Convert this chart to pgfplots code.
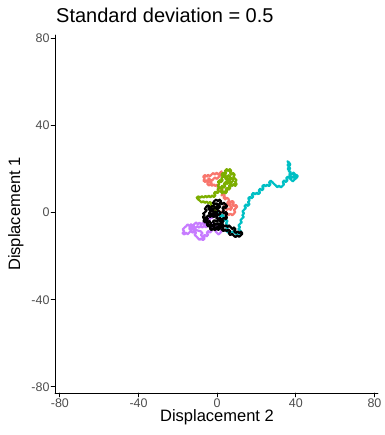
\documentclass[border=0pt]{standalone}
\usepackage{pgfplots}
\pgfplotsset{compat=1.18}
\usepackage{fontspec}
\setmainfont{Liberation Sans}
\definecolor{gR}{HTML}{F8766D}
\definecolor{gG}{HTML}{7CAE00}
\definecolor{gC}{HTML}{00BFC4}
\definecolor{gP}{HTML}{C77CFF}
\definecolor{tickgray}{HTML}{4D4D4D}
\begin{document}
\begin{tikzpicture}[x=1pt,y=1pt]
\useasboundingbox (0,0) rectangle (384,435);
\begin{axis}[
  at={(55pt,42pt)}, anchor=south west,
  scale only axis, width=323pt, height=358pt,
  xmin=-82.5, xmax=81.8, ymin=-82.8, ymax=81.6,
  axis lines=left, axis line style={-, line width=0.9pt, black},
  xtick={-80,-40,0,40,80}, ytick={-80,-40,0,40,80},
  tick align=outside, major tick length=3.8pt,
  tick style={line width=0.9pt, black},
  every tick label/.append style={font=\fontsize{12.5}{14}\selectfont, text=tickgray},
  /pgf/number format/assume math mode=true,
  xticklabel style={inner sep=1pt, yshift=-1pt},
  yticklabel style={inner sep=1.5pt},
  clip=false,
  line join=round, line cap=round,
]
\addplot[gR, line width=2.2pt] coordinates {(0,0)(0.8,0.7)(1.6,-0.1)(2.5,0.6)(3.3,-0.2)(4.2,0.5)(5.0,-0.3)(5.9,-1.1)(6.7,-0.4)(7.6,-1.2)(8.4,-0.5)(9.2,0.3)(8.5,1.2)(9.4,2.0)(10.2,2.8)(9.4,3.6)(8.5,3.0)(7.7,3.8)(8.5,4.7)(7.6,5.4)(6.8,4.7)(5.9,5.4)(5.1,4.6)(5.9,3.8)(5.0,3.0)(4.2,3.7)(3.4,2.9)(4.1,2.0)(5.0,1.3)(5.9,2.0)(6.8,1.3)(7.5,2.2)(6.7,3.0)(5.8,6.2)(4.9,6.9)(4.1,6.1)(3.2,6.9)(3.9,7.8)(3.1,8.6)(2.2,7.9)(2.9,9.0)(2.1,9.8)(2.8,10.7)(1.9,11.4)(1.1,10.6)(0.2,11.3)(0.9,12.2)(0.0,12.9)(-0.9,12.2)(-1.7,13.0)(-2.6,12.3)(-3.4,13.1)(-4.3,12.5)(-5.1,13.3)(-4.4,14.2)(-5.3,14.9)(-6.1,14.1)(-7.0,14.8)(-6.3,15.7)(-7.1,16.5)(-6.3,17.3)(-5.4,16.6)(-4.6,17.4)(-3.7,16.7)(-2.9,17.5)(-2.0,18.2)(-1.2,17.5)(-0.3,18.3)(0.5,17.5)(1.4,18.2)(2.2,19.0)(1.5,17.0)(0.6,16.2)(-0.3,15.5)(-1.1,16.2)(-2.0,15.4)(-2.8,14.6)(-3.7,15.3)(-4.5,15.8)(-3.6,14.0)(-2.7,13.5)};
\addplot[gG, line width=2.2pt] coordinates {(0,0)(-0.7,0.8)(-1.6,1.5)(-0.9,2.4)(-1.8,3.1)(-2.7,2.5)(-3.5,3.3)(-2.8,4.2)(-3.7,4.9)(-4.6,4.3)(-5.4,5.1)(-6.3,4.5)(-7.1,5.3)(-8.0,4.7)(-8.8,5.5)(-9.7,6.1)(-10.4,6.9)(-9.5,7.5)(-8.6,6.8)(-7.8,7.6)(-6.9,6.9)(-6.0,7.7)(-5.1,7.0)(-4.3,7.8)(-3.4,7.1)(-2.6,7.9)(-1.7,7.2)(-0.9,8.0)(-1.6,8.9)(-0.8,9.7)(0.1,9.0)(0.9,9.8)(0.2,10.7)(1.0,11.5)(0.3,12.4)(1.1,13.2)(0.4,14.1)(1.2,14.9)(2.0,14.1)(2.8,14.9)(2.1,15.8)(2.9,16.6)(2.2,17.5)(3.0,18.3)(3.8,17.5)(4.6,18.3)(4.0,19.2)(4.8,20.0)(5.6,19.2)(6.4,20.0)(7.2,19.2)(6.5,18.3)(7.3,17.5)(8.1,18.2)(8.9,17.4)(8.2,16.5)(9.0,15.7)(9.8,14.9)(9.1,14.0)(9.9,13.2)(9.2,12.3)(8.4,13.1)(7.6,12.3)(6.8,13.1)(6.0,12.3)(6.7,11.4)(5.9,10.6)(5.1,11.4)(4.3,10.6)(5.0,9.7)(4.2,8.9)(3.4,9.7)(2.6,8.9)(1.8,9.7)(2.5,10.6)(1.7,11.4)(2.5,12.3)(3.3,11.5)(4.1,12.3)(3.4,13.2)(4.2,14.0)(5.0,13.2)(5.8,14.0)(6.6,14.8)(5.8,15.6)(5.0,14.8)(4.2,15.6)(5.0,16.4)(5.8,17.2)(6.6,16.4)(7.4,15.6)(8.2,14.8)(7.4,14.0)(6.6,13.2)(3.6,16.5)(4.4,17.3)};
\addplot[gC, line width=2.2pt] coordinates {(0,0)(0.9,-0.8)(1.7,-1.7)(2.6,-1.0)(3.4,-1.9)(2.7,-2.8)(3.5,-3.7)(4.4,-3.0)(5.2,-3.9)(4.5,-4.8)(5.3,-5.7)(4.6,-6.6)(5.4,-7.5)(4.7,-8.4)(5.6,-9.1)(6.5,-8.4)(7.3,-9.2)(8.2,-8.5)(9.0,-9.3)(9.9,-10.0)(10.7,-9.2)(11.6,-9.9)(12.4,-9.1)(11.7,-8.2)(10.8,-7.5)(11.6,-6.7)(10.8,-5.9)(11.6,-5.1)(12.5,-4.4)(11.8,-3.5)(12.6,-2.7)(13.5,-2.0)(12.8,-1.1)(13.6,-0.3)(12.9,0.6)(13.7,1.4)(14.6,2.1)(13.9,3.0)(14.7,3.8)(15.6,3.1)(16.4,3.9)(15.7,4.8)(16.5,5.6)(15.8,6.5)(16.6,7.3)(17.5,6.6)(18.3,7.4)(17.6,8.3)(18.4,9.1)(19.3,8.4)(20.1,9.2)(21.0,8.5)(21.8,9.3)(21.1,10.2)(21.9,11.0)(22.8,10.3)(23.6,11.1)(22.9,12.0)(23.7,12.8)(24.6,12.1)(25.4,12.9)(26.3,12.2)(27.1,13.0)(26.4,13.9)(27.2,14.7)(28.1,14.0)(28.9,13.2)(29.8,12.5)(30.6,11.7)(31.5,12.4)(32.3,11.6)(33.2,12.3)(34.0,13.1)(33.3,14.0)(34.1,14.8)(35.0,14.1)(35.8,14.9)(35.1,15.8)(35.9,16.6)(36.8,15.9)(37.6,16.7)(38.5,16.0)(39.3,16.8)(40.2,17.5)(41.0,16.7)(40.2,15.9)(39.3,15.2)(38.5,14.4)(37.6,15.1)(36.8,15.9)(37.5,16.8)(36.7,17.6)(37.4,18.5)(36.6,19.3)(35.9,20.2)(36.6,21.1)(35.8,21.9)(36.5,22.8)(35.7,23.6)(36.6,23.0)(37.2,22.1)(36.4,21.2)(37.1,20.3)(36.3,19.4)(37.0,18.5)(38.0,17.7)(38.8,18.4)(39.6,17.6)(38.8,16.7)};
\addplot[gP, line width=2.2pt] coordinates {(0,0)(-0.8,-0.7)(-1.7,-0.1)(-2.5,-0.9)(-1.8,-1.8)(-2.7,-2.5)(-3.5,-1.7)(-4.4,-2.4)(-3.7,-3.3)(-4.6,-4.0)(-5.4,-3.2)(-6.3,-3.9)(-5.6,-4.8)(-6.5,-5.5)(-7.3,-4.7)(-8.2,-5.4)(-9.0,-4.6)(-9.9,-5.3)(-10.7,-4.5)(-11.6,-5.2)(-12.4,-6.0)(-13.3,-5.3)(-14.1,-6.1)(-15.0,-5.4)(-15.8,-6.2)(-16.7,-6.9)(-17.5,-7.7)(-16.8,-8.6)(-17.6,-9.4)(-16.7,-10.0)(-15.9,-9.2)(-15.0,-9.9)(-14.2,-9.1)(-13.3,-8.4)(-12.5,-9.2)(-11.6,-8.5)(-10.8,-9.3)(-11.5,-10.2)(-10.6,-10.9)(-9.8,-11.7)(-9.0,-12.5)(-8.1,-11.8)(-7.3,-12.6)(-6.4,-11.9)(-7.1,-11.0)(-6.3,-10.2)(-5.4,-10.9)(-4.6,-10.1)(-5.3,-9.2)(-4.5,-8.4)(-3.6,-9.1)(-2.8,-8.3)(-3.5,-7.4)(-2.6,-6.7)(-1.8,-7.5)(-0.9,-6.8)(-0.1,-7.6)(-0.9,-8.5)(-0.1,-9.3)(0.8,-10.0)(1.6,-9.2)(2.4,-8.4)(1.7,-7.5)(0.9,-6.7)(-0.7,-5.4)(-1.6,-6.1)(-2.4,-5.3)(-3.3,-6.0)(-4.1,-5.2)(-5.0,-5.9)(-5.8,-6.7)(-6.7,-6.0)(-7.5,-6.8)(-8.4,-6.1)(-9.2,-6.9)(-10.1,-6.2)(-10.9,-7.0)(-11.8,-6.3)(-12.6,-7.1)(-13.5,-6.4)(-14.3,-7.2)(-13.5,-8.0)(-12.6,-7.5)(-8.3,-8.6)(-7.5,-9.4)(-8.3,-10.2)(-7.5,-11.0)};
\addplot[black, line width=2.2pt] coordinates {(0,0)(-0.8,0.6)(-1.5,-0.2)(-2.3,0.7)(-1.8,1.5)(-2.9,1.9)(-3.6,1.1)(-4.5,1.8)(-3.9,2.8)(-4.8,3.4)(-5.6,2.6)(-6.3,1.7)(-5.4,1.0)(-6.2,0.2)(-7.1,-0.4)(-6.4,-1.2)(-7.3,-2.0)(-6.5,-2.8)(-5.5,-2.2)(-4.7,-3.0)(-5.6,-3.8)(-4.8,-4.6)(-3.9,-3.9)(-3.1,-4.8)(-3.8,-5.7)(-2.9,-6.4)(-2.1,-5.6)(-1.2,-6.3)(-1.9,-7.2)(-1.0,-7.9)(-0.2,-7.1)(0.6,-7.9)(1.4,-7.2)(0.7,-6.3)(1.6,-5.6)(2.4,-6.4)(3.1,-5.5)(2.3,-4.7)(3.2,-4.0)(2.5,-3.1)(3.4,-2.4)(4.3,-3.0)(5.0,-2.2)(4.2,-1.4)(5.1,-0.6)(4.4,0.3)(3.5,-0.4)(2.7,0.4)(3.4,1.3)(2.6,2.1)(3.5,2.9)(4.3,2.2)(5.0,3.0)(4.2,3.9)(3.3,4.6)(2.5,3.8)(1.6,4.5)(0.8,3.7)(1.5,2.8)(0.6,2.0)(-0.3,2.7)(0.4,3.6)(-0.4,4.4)(-1.3,3.7)(-2.1,4.5)(-1.4,5.4)(-0.5,6.0)(0.4,5.3)(1.2,6.0)(2.0,5.2)(1.3,4.3)(0.5,3.1)(-0.5,1.8)(-1.4,2.6)(-2.4,3.2)(-3.2,2.4)(-2.5,1.5)(-3.3,0.5)(-4.2,-0.3)(-3.4,-1.1)(-2.5,-0.5)(-1.6,-1.3)(-0.7,-0.6)(0.2,-1.4)(-0.5,-2.3)(0.4,-3.0)(1.3,-2.3)(2.1,-3.1)(1.4,-4.0)(0.5,-3.4)(-0.4,-4.1)(-1.3,-3.4)(-2.2,-4.1)(-1.5,-5.0)(-0.6,-5.5)(0.3,-4.8)(1.1,-5.5)(2.0,-4.8)(2.8,-5.6)(3.6,-6.4)(4.5,-5.8)(5.3,-6.6)(6.1,-5.9)(6.9,-6.7)(7.7,-7.5)(8.5,-6.8)(9.3,-7.6)(8.6,-8.5)(9.5,-9.3)(10.4,-8.6)(11.2,-9.4)(12.1,-8.7)(12.8,-9.6)(12.0,-10.4)(11.1,-11.1)(10.2,-10.4)(9.3,-11.2)(8.4,-10.5)(7.6,-9.7)(6.7,-10.3)(5.9,-9.5)(6.6,-8.6)(5.7,-7.8)(4.8,-8.5)(4.0,-7.7)(3.2,-8.4)(2.3,-7.7)(3.0,-6.9)(2.2,-6.1)(1.3,-6.8)(0.4,-6.2)(-0.4,-7.0)(-1.2,-8.0)(-2.0,-7.3)(-2.9,-8.0)(-3.7,-7.2)(-3.0,-6.3)(-3.9,-5.5)(-4.6,-6.3)(-5.3,-5.4)(-4.5,-4.7)(-5.3,-3.9)(-6.2,-4.5)(-7.0,-3.7)(-6.3,-2.9)(-5.4,-2.0)(-4.5,-1.2)(-3.6,-2.0)(-2.7,-1.3)(-1.8,-2.0)(-0.9,-1.3)(0,-0.5)(0.9,-1.0)(1.8,-0.3)(1.1,0.6)(0.2,1.2)};
\end{axis}
\node[anchor=base west, inner sep=0pt, font=\fontsize{20}{24}\selectfont] at (56,412) {Standard deviation = 0.5};
\node[anchor=base, inner sep=0pt, font=\fontsize{16.5}{20}\selectfont] at (217,13) {Displacement 2};
\node[anchor=base, rotate=90, inner sep=0pt, font=\fontsize{16.5}{20}\selectfont] at (20,221) {Displacement 1};
\end{tikzpicture}
\end{document}
